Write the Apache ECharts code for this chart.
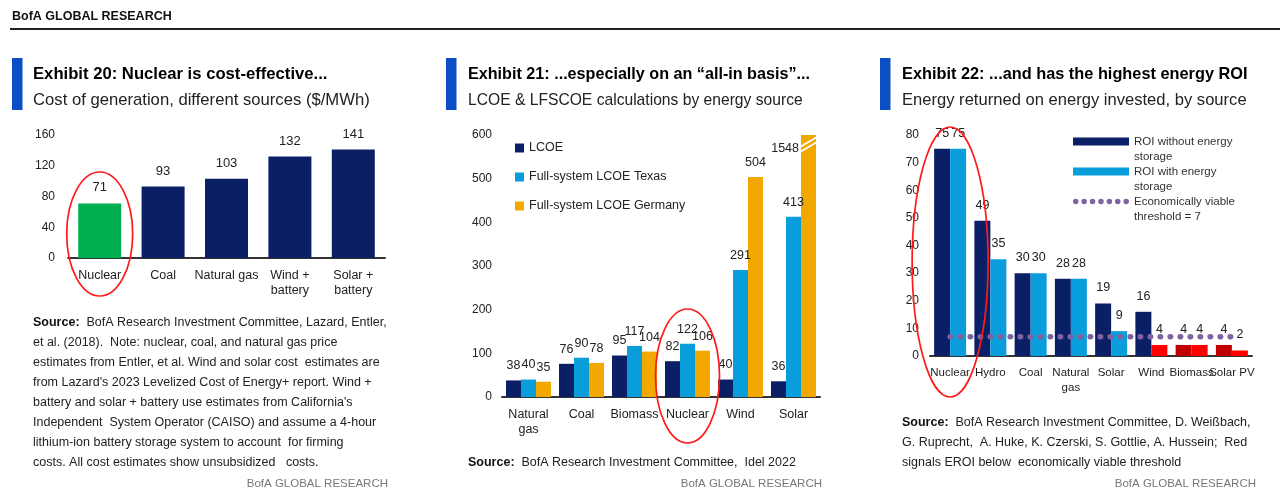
<!DOCTYPE html>
<html><head><meta charset="utf-8">
<script src="https://cdn.jsdelivr.net/npm/echarts@6/dist/echarts.min.js"></script>
<style>html,body{margin:0;padding:0;background:#fff}#c{width:1280px;height:502px}</style>
</head><body><div id="c"></div>
<script>
const FONT = '"Liberation Sans", Arial, sans-serif';

// ---- Exhibit 20 data ----
const ex20Categories = ['Nuclear', 'Coal', 'Natural gas', 'Wind +\nbattery', 'Solar +\nbattery'];
const ex20Values = [71, 93, 103, 132, 141];
const ex20Highlight = 'Nuclear';

// ---- Exhibit 21 data ----
const ex21Categories = ['Natural\ngas', 'Coal', 'Biomass', 'Nuclear', 'Wind', 'Solar'];
const ex21LCOE = [38, 76, 95, 82, 40, 36];
const ex21Texas = [40, 90, 117, 122, 291, 413];
const ex21Germany = [35, 78, 104, 106, 504, 1548];

// ---- Exhibit 22 data ----
const ex22Categories = ['Nuclear', 'Hydro', 'Coal', 'Natural\ngas', 'Solar', 'Wind', 'Biomass', 'Solar PV'];
const ex22Without = [75, 49, 30, 28, 19, 16, 4, 4];
const ex22With = [75, 35, 30, 28, 9, 4, 4, 2];
const ex22ThresholdValue = 7;
const ex22Threshold = [7, 7, 7, 7, 7, 7, 7, 7];

// ---- colours ----
const NAVY = '#0b1f66', LIGHT = '#0a9ddc', ORANGE = '#f3a800', GREEN = '#00b050';
const RED = '#ff0000', DARKRED = '#c00000', PURPLE = '#7f63a1', ACCENT = '#0a4fc4';

// dotted legend icon: 7 dots in a 56 x 8 box
let dotsPath = 'path://M0,0M56,8';
for (let i = 0; i < 7; i++) {
  const x0 = (i * 8.4).toFixed(2);
  dotsPath += 'M' + x0 + ',4a2.75,2.75 0 1,0 5.5,0a2.75,2.75 0 1,0 -5.5,0Z';
}

const chart = echarts.init(document.getElementById('c'), null, {renderer: 'canvas'});

function xCat(gi, data, margin, fs) {
  return {gridIndex: gi, type: 'category', data: data,
    axisTick: {show: false},
    axisLine: {lineStyle: {color: '#333', width: 2}},
    axisLabel: {interval: 0, fontSize: fs, color: '#222', margin: margin, lineHeight: 15, fontFamily: FONT}};
}
function yVal(gi, max, interval, margin) {
  return {gridIndex: gi, type: 'value', min: 0, max: max, interval: interval,
    splitLine: {show: false}, axisLine: {show: false}, axisTick: {show: false},
    axisLabel: {fontSize: 12, color: '#222', margin: margin, fontFamily: FONT}};
}
function lbl(fs, d) {
  return {show: true, position: 'top', distance: d, fontSize: fs, color: '#222', fontFamily: FONT};
}

const option = {
  animation: false,
  backgroundColor: '#fff',
  textStyle: {fontFamily: FONT},
  grid: [
    {left: 68, top: 135, width: 317, height: 123},
    {left: 502, top: 135, width: 318, height: 262},
    {left: 930, top: 135, width: 322, height: 221}
  ],
  xAxis: [xCat(0, ex20Categories, 10, 12.5), xCat(1, ex21Categories, 10, 12.5), xCat(2, ex22Categories, 9, 11.5)],
  yAxis: [yVal(0, 160, 40, 13), yVal(1, 600, 100, 10), yVal(2, 80, 10, 11)],
  legend: [
    {left: 515, top: 140, orient: 'vertical', padding: 0, itemWidth: 9, itemHeight: 9, itemGap: 13,
      icon: 'rect', selectedMode: false,
      textStyle: {fontSize: 12.5, color: '#222', lineHeight: 16, fontFamily: FONT},
      data: ['LCOE', 'Full-system LCOE Texas', 'Full-system LCOE Germany']},
    {left: 1073, top: 119, orient: 'vertical', padding: 0, itemWidth: 56, itemHeight: 8, itemGap: -15,
      selectedMode: false,
      textStyle: {fontSize: 11.5, color: '#333', lineHeight: 15, fontFamily: FONT},
      formatter: function (n) {
        return {'ROI without energy storage': ' \nROI without energy\nstorage',
                'ROI with energy storage': ' \nROI with energy\nstorage',
                'Economically viable threshold = 7': ' \nEconomically viable\nthreshold = 7'}[n] || n;
      },
      data: [{name: 'ROI without energy storage', icon: 'rect'},
             {name: 'ROI with energy storage', icon: 'rect'},
             {name: 'Economically viable threshold = 7', icon: dotsPath}]}
  ],
  series: [
    {type: 'bar', name: 'Cost of generation', xAxisIndex: 0, yAxisIndex: 0, barWidth: 43,
      data: ex20Values.map((v, i) => ({value: v, itemStyle: {color: ex20Categories[i] === ex20Highlight ? GREEN : NAVY}})),
      label: lbl(13, 9)},
    {type: 'bar', name: 'LCOE', xAxisIndex: 1, yAxisIndex: 1, barWidth: 15, barGap: '0%',
      itemStyle: {color: NAVY}, data: ex21LCOE, label: lbl(12.5, 8)},
    {type: 'bar', name: 'Full-system LCOE Texas', xAxisIndex: 1, yAxisIndex: 1, barWidth: 15, barGap: '0%',
      itemStyle: {color: LIGHT}, data: ex21Texas, label: lbl(12.5, 8)},
    {type: 'bar', name: 'Full-system LCOE Germany', xAxisIndex: 1, yAxisIndex: 1, barWidth: 15, barGap: '0%',
      itemStyle: {color: ORANGE}, clip: true,
      data: ex21Germany.map(v => v > 600 ? {value: v, label: {position: [-2, 14], align: 'right', verticalAlign: 'middle'}} : v),
      label: lbl(12.5, 8)},
    {type: 'bar', name: 'ROI without energy storage', xAxisIndex: 2, yAxisIndex: 2, barWidth: 16, barGap: '0%',
      itemStyle: {color: NAVY},
      data: ex22Without.map(v => ({value: v, itemStyle: {color: v < ex22ThresholdValue ? DARKRED : NAVY}})),
      label: lbl(12.5, 9)},
    {type: 'bar', name: 'ROI with energy storage', xAxisIndex: 2, yAxisIndex: 2, barWidth: 16, barGap: '0%',
      itemStyle: {color: LIGHT},
      data: ex22With.map(v => ({value: v, itemStyle: {color: v < ex22ThresholdValue ? RED : LIGHT}})),
      label: lbl(12.5, 9)},
    {type: 'line', name: 'Economically viable threshold = 7', xAxisIndex: 2, yAxisIndex: 2,
      data: ex22Threshold, symbol: 'none', z: 5,
      itemStyle: {color: PURPLE},
      lineStyle: {color: PURPLE, width: 5.5, type: [0.5, 9.5], cap: 'round'}}
  ]
};
chart.setOption(option);

// ---- texts & decorations ----
function txt(x, y, text, st, sx) {
  return {type: 'text', x: x, y: y, scaleX: sx || 1, silent: true,
    style: Object.assign({text: text, fontFamily: FONT, fontSize: 12.5, fill: '#222', verticalAlign: 'middle', align: 'left'}, st || {})};
}
function srcBlock(x, yFirst, lines) {
  return {type: 'text', x: x, y: yFirst - 10, silent: true,
    style: {text: lines.join('\n'), fontFamily: FONT, fontSize: 12.5, fill: '#222', lineHeight: 20, verticalAlign: 'top', align: 'left',
      rich: {b: {fontWeight: 'bold', fontFamily: FONT, fontSize: 12.5, fill: '#111', lineHeight: 20}}}};
}
const g = [];
g.push(txt(12, 17, 'BofA GLOBAL RESEARCH', {fontWeight: 'bold', fontSize: 12.5, fill: '#111'}));
g.push({type: 'rect', silent: true, shape: {x: 10, y: 28, width: 1270, height: 2}, style: {fill: '#222'}});

const panels = [
  {bx: 12, tx: 33, title: 'Exhibit 20: Nuclear is cost-effective...', sub: 'Cost of generation, different sources ($/MWh)', right: 388, ts: 0.98, ss: 0.98},
  {bx: 446, tx: 468, title: 'Exhibit 21: ...especially on an “all-in basis”...', sub: 'LCOE & LFSCOE calculations by energy source', right: 822, ts: 0.95, ss: 0.92},
  {bx: 880, tx: 902, title: 'Exhibit 22: ...and has the highest energy ROI', sub: 'Energy returned on energy invested, by source', right: 1256, ts: 0.96, ss: 0.975}
];
panels.forEach(p => {
  g.push({type: 'rect', silent: true, shape: {x: p.bx, y: 58, width: 10.5, height: 52}, style: {fill: ACCENT}});
  g.push(txt(p.tx, 74, p.title, {fontWeight: 'bold', fontSize: 17, fill: '#000'}, p.ts));
  g.push(txt(p.tx, 100, p.sub, {fontSize: 17, fill: '#222'}, p.ss));
  g.push(txt(p.right, 484, 'BofA GLOBAL RESEARCH', {align: 'right', fontSize: 11.5, fill: '#777'}));
});

g.push(srcBlock(33, 323, [
  '{b|Source:}  BofA Research Investment Committee, Lazard, Entler,',
  'et al. (2018).  Note: nuclear, coal, and natural gas price',
  'estimates from Entler, et al. Wind and solar cost  estimates are',
  "from Lazard's 2023 Levelized Cost of Energy+ report. Wind +",
  "battery and solar + battery use estimates from California's",
  'Independent  System Operator (CAISO) and assume a 4-hour',
  'lithium-ion battery storage system to account  for firming',
  'costs. All cost estimates show unsubsidized   costs.'
]));
g.push(srcBlock(468, 463, ['{b|Source:}  BofA Research Investment Committee,  Idel 2022']));
g.push(srcBlock(902, 423, [
  '{b|Source:}  BofA Research Investment Committee, D. Weißbach,',
  'G. Ruprecht,  A. Huke, K. Czerski, S. Gottlie, A. Hussein;  Red',
  'signals EROI below  economically viable threshold'
]));

// ellipses around Nuclear, positioned from the axes
function ell(gi, idx, dy, rx, ry) {
  const p = chart.convertToPixel({xAxisIndex: gi, yAxisIndex: gi}, [idx, 0]);
  return {type: 'ellipse', silent: true, z: 100, shape: {cx: p[0], cy: p[1] - dy, rx: rx, ry: ry},
    style: {fill: 'none', stroke: '#ff1a1a', lineWidth: 1.7}};
}
g.push(ell(0, 0, 24, 33, 62));
g.push(ell(1, 3, 21, 32, 67));
g.push(ell(2, 0, 94, 38, 135));

// break mark on the clipped Solar / Germany bar
const solarIdx = ex21Germany.findIndex(v => v > 600);
const sp = chart.convertToPixel({xAxisIndex: 1, yAxisIndex: 1}, [solarIdx, 600]);
const bx0 = sp[0] + 7.5, bx1 = sp[0] + 22.5, by = sp[1];
g.push({type: 'line', silent: true, z: 100, shape: {x1: bx0 - 1, y1: by + 17, x2: bx1 + 1, y2: by + 7}, style: {stroke: '#fff', lineWidth: 1.8}});
g.push({type: 'line', silent: true, z: 100, shape: {x1: bx0 - 1, y1: by + 12, x2: bx1 + 1, y2: by + 2}, style: {stroke: '#fff', lineWidth: 1.8}});

chart.setOption({graphic: g});
</script></body></html>
